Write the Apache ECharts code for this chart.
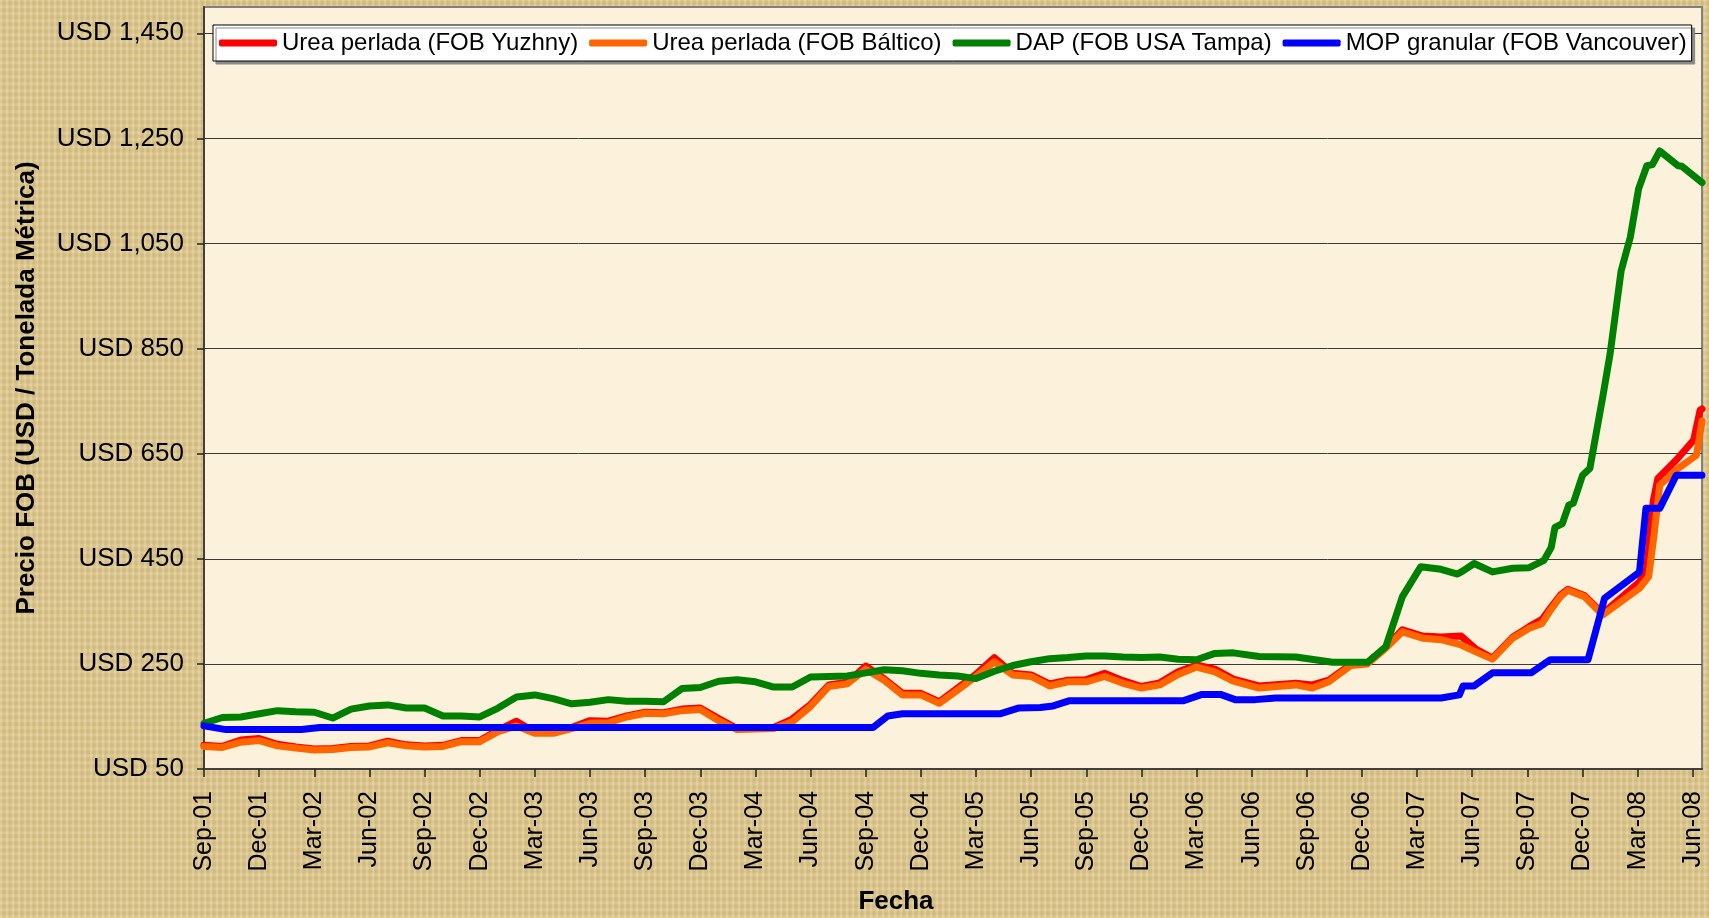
<!DOCTYPE html>
<html>
<head>
<meta charset="utf-8">
<script src="https://cdn.jsdelivr.net/npm/echarts@6/dist/echarts.min.js"></script>
<style>
html,body{margin:0;padding:0;}
body{width:1709px;height:918px;overflow:hidden;
background-color:#d8c28a;
background-image:
 repeating-linear-gradient(90deg, rgba(255,245,210,0.18) 0px, rgba(255,245,210,0.18) 2px, rgba(150,120,50,0.10) 3px, rgba(150,120,50,0.0) 6px),
 repeating-linear-gradient(0deg, rgba(255,245,210,0.15) 0px, rgba(255,245,210,0.15) 2px, rgba(150,120,50,0.08) 4px, rgba(150,120,50,0.0) 7px);}
#c{width:1709px;height:918px;}
</style>
</head>
<body>
<div id="c"></div>
<script>
// Month index: 0 = Sep-01, 3 = Dec-01, ... 81 = Jun-08
const xTickLabels = ['Sep-01','Dec-01','Mar-02','Jun-02','Sep-02','Dec-02','Mar-03','Jun-03','Sep-03','Dec-03',
  'Mar-04','Jun-04','Sep-04','Dec-04','Mar-05','Jun-05','Sep-05','Dec-05','Mar-06','Jun-06',
  'Sep-06','Dec-06','Mar-07','Jun-07','Sep-07','Dec-07','Mar-08','Jun-08'];
const yTickValues = [50,250,450,650,850,1050,1250,1450];

const seriesNames = ['Urea perlada (FOB Yuzhny)','Urea perlada (FOB Báltico)','DAP (FOB USA Tampa)','MOP granular (FOB Vancouver)'];

const yuzhnyData = [[0,95],[1,93],[2,105],[3,108],[4,97],[5,92],[6,88],[7,89],[8,93],[9,94],[10,103],[11,96],[12,94],[13,95],[14,104],[15,104],[16,124],[17,141],[18,120],[19,120],[20,129],[21,142],[22,141],[23,151],[24,158],[25,157],[26,164],[27,166],[28,146],[29,127],[30,128],[31,129],[32,145],[33,173],[34,210],[35,215],[36,246],[37,222],[38,194],[39,194],[40,178],[41,204],[42,230],[43,262],[44,232],[45,229],[46,212],[47,219],[48,220],[49,232],[50,218],[51,207],[52,214],[53,235],[54,248],[55,240],[56,221],[57.4,208],[59.4,213],[60.3,210],[61.2,219],[62.4,249],[63.3,252],[64.3,282],[65.2,315],[66.3,303],[67.3,301],[68.4,303],[69.2,278],[70.1,261],[71.2,301],[72.1,321],[72.8,335],[73.25,356],[73.8,381],[74.2,392],[75.1,380],[76.1,346],[78.1,406],[78.5,432],[78.85,560],[79.1,603],[80.1,638],[81.05,676],[81.4,733],[81.5,735]];

const balticoData = [[0,93],[1,91],[2,101],[3,104],[4,94],[5,90],[6,86],[7,87],[8,91],[9,92],[10,100],[11,94],[12,92],[13,93],[14,102],[15,102],[16,121],[17,132],[18,118],[19,118],[20,127],[21,137],[22,138],[23,149],[24,156],[25,155],[26,161],[27,163],[28,142],[29,125],[30,126],[31,127],[32,140],[33,169],[34,207],[35,212],[36,240],[37,219],[38,191],[39,191],[40,175],[41,200],[42,226],[43,254],[44,229],[45,226],[46,208],[47,216],[48,216],[49,226],[50,213],[51,204],[52,210],[53,230],[54,244],[55,235],[56,217],[57.4,204],[59.4,210],[60.3,204],[61.2,216],[62.4,247],[63.3,250],[64.3,280],[65.2,311],[66.3,299],[67.3,296],[68.4,286],[69.2,273],[70.1,259],[71.2,299],[72.1,318],[72.8,327],[73.25,352],[73.8,378],[74.2,390],[75.1,378],[76.1,343],[78.1,394],[78.6,416],[78.9,498],[79.2,590],[80.2,622],[81.2,647],[81.5,712]];

const dapData = [[0,137],[1,148],[2,149],[3,155],[4,161],[5,159],[6,158],[7,147],[8,164],[9,170],[10,172],[11,166],[12,166],[13,151],[14,151],[15,149],[16,166],[17,187],[18,191],[19,184],[20,174],[21,177],[22,182],[23,179],[24,179],[25,178],[26,203],[27,205],[28,217],[29,220],[30,216],[31,206],[32,206],[33,225],[34,226],[35,227],[36,233],[37,239],[38,237],[39,232],[40,229],[41,227],[42,222],[43,236],[44,247],[45,254],[46,260],[47,262],[48,265],[49,265],[50,263],[51,262],[52,263],[53,259],[54,258],[55,270],[56,271],[57.4,264],[59.4,263],[61.4,253],[63.3,253],[64.3,283],[65.2,378],[66.2,435],[67.3,430],[68.2,421],[68.5,427],[69.1,441],[70.1,425],[71.2,432],[72.1,433],[72.9,447],[73.3,472],[73.5,510],[73.9,517],[74.25,552],[74.5,556],[75.0,609],[75.4,622],[76.1,758],[76.5,840],[77.1,998],[77.6,1062],[78.05,1154],[78.5,1198],[78.8,1200],[79.2,1226],[80.2,1198],[80.4,1197],[81.5,1166]];

const mopData = [[0,132],[1.2,125],[5.3,125],[6.3,129],[36.4,129],[37.2,151],[38,155],[43.3,155],[44.3,166],[45.5,167],[46.2,170],[47.1,180],[53.3,180],[54.3,192],[55.3,192],[56.1,182],[57.2,182],[58.3,185],[67.3,185],[68.3,191],[68.5,208],[69.1,208],[70.1,233],[72.2,233],[73.25,258],[75.3,258],[76.2,375],[78.1,425],[78.45,546],[79.2,546],[80.1,609],[81.5,609]];

const seriesColors = ['#ff0000','#ff6600','#008000','#0000ff'];
const seriesData = [yuzhnyData, balticoData, dapData, mopData];
const xTickValues = xTickLabels.map((_, i) => i * 3);

const chart = echarts.init(document.getElementById('c'), null, {renderer:'canvas'});
const font = 'Arial, "Liberation Sans", sans-serif';

chart.setOption({
  backgroundColor: 'transparent',
  animation: false,
  grid: {
    left: 204, right: 7, top: 7, bottom: 149,
    containLabel: false, outerBoundsMode: 'none',
    show: true, backgroundColor: '#fcf1da', borderColor: '#808080', borderWidth: 2
  },
  legend: {
    data: seriesNames,
    left: 213, top: 25,
    padding: [5, 5, 5, 6],
    itemGap: 11,
    itemWidth: 58, itemHeight: 7,
    icon: 'roundRect',
    backgroundColor: '#ffffff',
    borderColor: '#000000', borderWidth: 1, borderRadius: 0,
    shadowColor: '#8a8a8a', shadowOffsetX: 3, shadowOffsetY: 3, shadowBlur: 0,
    textStyle: { fontFamily: font, fontSize: 24, color: '#000', lineHeight: 26 }
  },
  xAxis: {
    type: 'value', min: 0, max: 81.5,
    name: 'Fecha', nameLocation: 'middle', nameGap: 120,
    nameTextStyle: { fontFamily: font, fontSize: 26, fontWeight: 'bold', color: '#000', padding: [0, 114, 0, 0] },
    axisLine: { show: true, onZero: false, lineStyle: { color: '#404040', width: 2 } },
    axisTick: { show: true, inside: false, length: 8, customValues: xTickValues, lineStyle: { color: '#202020', width: 1.5 } },
    axisLabel: {
      customValues: xTickValues, rotate: 90, margin: 22,
      fontFamily: font, fontSize: 25, color: '#000',
      formatter: v => { const i = Math.round(v / 3); return xTickLabels[i] || ''; }
    },
    splitLine: { show: false }
  },
  yAxis: {
    type: 'value', min: 50, max: 1500,
    name: 'Precio FOB (USD / Tonelada Métrica)', nameLocation: 'middle', nameGap: 164,
    nameTextStyle: { fontFamily: font, fontSize: 26, fontWeight: 'bold', color: '#000' },
    axisLine: { show: true, lineStyle: { color: '#404040', width: 2 } },
    axisTick: { show: true, inside: false, length: 7, customValues: yTickValues, lineStyle: { color: '#202020', width: 1.5 } },
    axisLabel: {
      customValues: yTickValues, margin: 20,
      fontFamily: font, fontSize: 26, color: '#000',
      formatter: v => 'USD ' + Number(v).toLocaleString('en-US')
    },
    splitLine: { show: true, lineStyle: { color: '#3a3a3a', width: 1 } }
  },
  series: seriesNames.map((name, i) => ({
    name: name,
    type: 'line',
    data: seriesData[i],
    showSymbol: false,
    symbol: 'none',
    color: seriesColors[i],
    lineStyle: { color: seriesColors[i], width: 7, cap: 'round', join: 'round' },
    z: 2 + i
  }))
});
</script>
</body>
</html>
